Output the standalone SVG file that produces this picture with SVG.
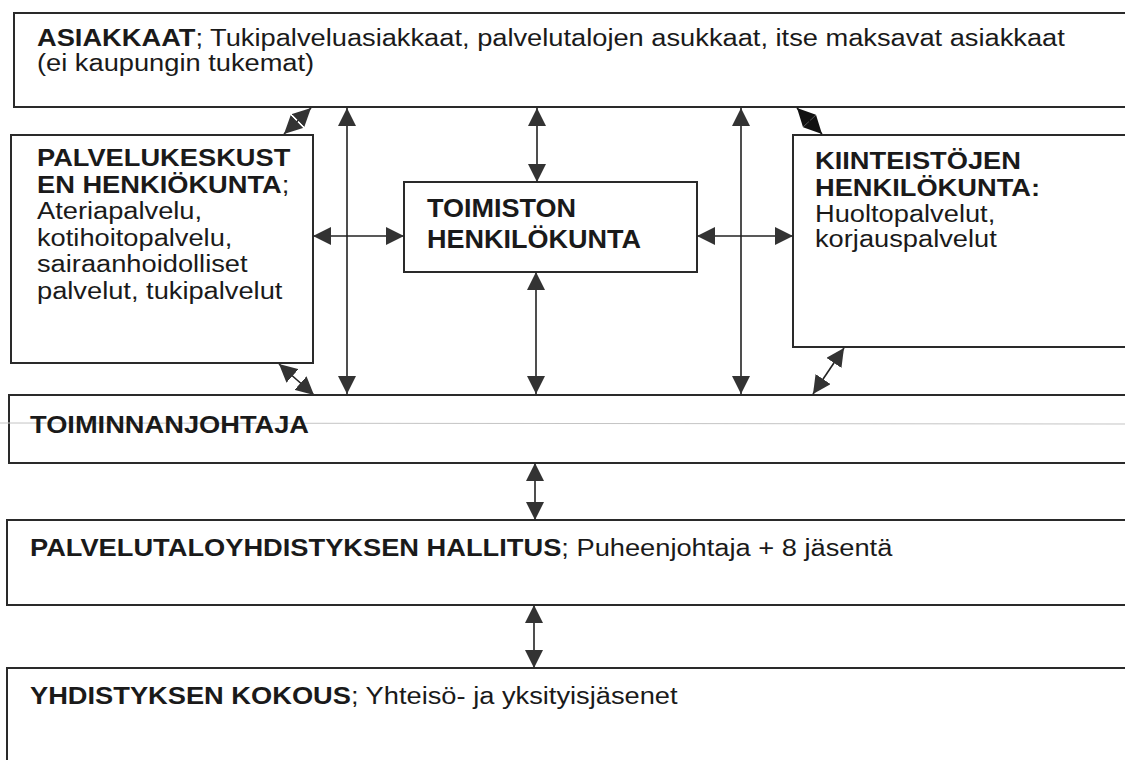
<svg xmlns="http://www.w3.org/2000/svg" width="1125" height="760" viewBox="0 0 1125 760">
<style>
.box{fill:#fff;stroke:#2a2a2a;stroke-width:2}
.t{font-family:"Liberation Sans",Arial,sans-serif;font-size:23.5px;fill:#1a1a1a}
.m{font-family:"Liberation Sans",Arial,sans-serif;font-size:25.5px;fill:#1a1a1a;font-weight:bold}
.b{font-weight:bold}
.c{fill:none;stroke:#222;stroke-width:1.6;marker-start:url(#ah);marker-end:url(#ah)}
.k{fill:none;stroke:#111;stroke-width:1.6;marker-start:url(#ak);marker-end:url(#ak)}
.scan{stroke:#c4c4c4;stroke-width:1}
</style>
<defs>
<marker id="ah" viewBox="0 0 18 18" refX="18" refY="9" markerWidth="18" markerHeight="18" markerUnits="userSpaceOnUse" orient="auto-start-reverse">
<path d="M0,0 L18,9 L0,18 z" fill="#333"/>
</marker>
<marker id="ak" viewBox="0 0 18 18" refX="18" refY="9" markerWidth="18" markerHeight="18" markerUnits="userSpaceOnUse" orient="auto-start-reverse">
<path d="M0,0 L18,9 L0,18 z" fill="#111"/>
</marker>
</defs>
<rect width="1125" height="760" fill="#fff"/>

<g id="asiakkaat">
<rect class="box" x="14" y="13" width="1125" height="94"/>
<text class="t" transform="translate(37,46) scale(1.16,1)"><tspan class="b">ASIAKKAAT</tspan>; Tukipalveluasiakkaat, palvelutalojen asukkaat, itse maksavat asiakkaat</text>
<text class="t" transform="translate(37,71) scale(1.16,1)">(ei kaupungin tukemat)</text>
</g>

<g id="palvelukeskus">
<rect class="box" x="11" y="135" width="302" height="228"/>
<text class="t" transform="translate(37,166) scale(1.16,1)"><tspan class="b">PALVELUKESKUST</tspan></text>
<text class="t" transform="translate(37,192.5) scale(1.16,1)"><tspan class="b">EN HENKIÖKUNTA</tspan>;</text>
<text class="t" transform="translate(37,219) scale(1.16,1)">Ateriapalvelu,</text>
<text class="t" transform="translate(37,245.5) scale(1.16,1)">kotihoitopalvelu,</text>
<text class="t" transform="translate(37,272) scale(1.16,1)">sairaanhoidolliset</text>
<text class="t" transform="translate(37,298.5) scale(1.16,1)">palvelut, tukipalvelut</text>
</g>

<g id="toimisto">
<rect class="box" x="404" y="182" width="293" height="90"/>
<text class="m" transform="translate(427,217) scale(1.06,1)">TOIMISTON</text>
<text class="m" transform="translate(427,248) scale(1.06,1)">HENKILÖKUNTA</text>
</g>

<g id="kiinteistot">
<rect class="box" x="793" y="135" width="345" height="212"/>
<text class="t" transform="translate(815,169) scale(1.16,1)"><tspan class="b">KIINTEISTÖJEN</tspan></text>
<text class="t" transform="translate(815,196) scale(1.16,1)"><tspan class="b">HENKILÖKUNTA:</tspan></text>
<text class="t" transform="translate(815,222) scale(1.16,1)">Huoltopalvelut,</text>
<text class="t" transform="translate(815,247) scale(1.16,1)">korjauspalvelut</text>
</g>

<g id="toiminnanjohtaja">
<rect class="box" x="9" y="395" width="1130" height="68"/>
<line class="scan" x1="0" y1="423" x2="1125" y2="424"/>
<text class="t" transform="translate(30,433) scale(1.16,1)"><tspan class="b">TOIMINNANJOHTAJA</tspan></text>
</g>

<g id="hallitus">
<rect class="box" x="7" y="520" width="1130" height="85"/>
<text class="t" transform="translate(30,556) scale(1.16,1)"><tspan class="b">PALVELUTALOYHDISTYKSEN HALLITUS</tspan>; Puheenjohtaja + 8 jäsentä</text>
</g>

<g id="kokous">
<rect class="box" x="7" y="668" width="1130" height="110"/>
<text class="t" transform="translate(30,704) scale(1.16,1)"><tspan class="b">YHDISTYKSEN KOKOUS</tspan>; Yhteisö- ja yksityisjäsenet</text>
</g>

<g id="connectors">
<line class="c" x1="284" y1="134" x2="311" y2="108"/>
<line class="c" x1="347" y1="108" x2="347" y2="394"/>
<line class="c" x1="537" y1="108" x2="537" y2="182"/>
<line class="c" x1="741" y1="108" x2="741" y2="394"/>
<line class="k" x1="797" y1="108" x2="822" y2="134"/>
<line class="c" x1="313" y1="236" x2="404" y2="236"/>
<line class="c" x1="697" y1="236" x2="793" y2="236"/>
<line class="c" x1="536" y1="272" x2="536" y2="394"/>
<line class="c" x1="279" y1="364" x2="314" y2="395"/>
<line class="c" x1="844" y1="348" x2="813" y2="394"/>
<line class="c" x1="535" y1="463" x2="535" y2="520"/>
<line class="c" x1="534" y1="605" x2="534" y2="668"/>
</g>
</svg>
